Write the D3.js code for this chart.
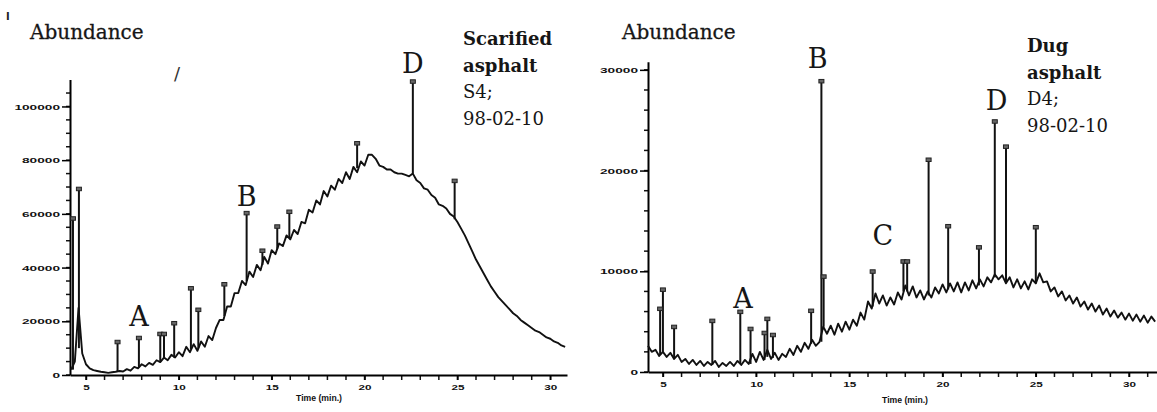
<!DOCTYPE html>
<html>
<head>
<meta charset="utf-8">
<script src="https://cdn.jsdelivr.net/npm/d3@7"></script>
<style>
  body { margin: 0; background: #fff; }
  .lab { font-family: "DejaVu Serif", serif; fill: #161616; }
  .tick text { font-family: "Liberation Sans", Arial, sans-serif; font-weight: bold; fill: #111; }
</style>
</head>
<body>
<svg id="chart" width="1157" height="412"></svg>
<script>
// chromatogram traces, sampled every 0.2 min, abundance in thousands
var sampleStep = 0.2;

var leftStart = 4.2;
var leftBase = [
  2, 5, 25, 8, 4, 2.5, 1.8, 1.5, 1.2, 1.0,
  0.8, 1.0, 1.2, 1.5, 1.3, 2.2, 1.6, 3.0, 2.5, 4.0,
  3.2, 4.5, 3.8, 5.5, 4.8, 6.5, 5.5, 7.5, 6.5, 8.5,
  7.0, 10.5, 8.5, 11.5, 9.0, 12.5, 10.5, 14.5, 13.0, 17.5,
  20.5, 20.5, 25.5, 25.5, 30.5, 30.5, 35, 33.5, 38.5, 36.5,
  41, 39, 44, 41.5, 46.5, 45, 49, 48, 52, 50.5,
  54, 52.5, 57, 56.5, 61.5, 60.5, 65, 63.5, 68.5, 66.5,
  70.5, 69, 73, 71.5, 75.5, 73, 77.5, 75.5, 79.5, 78,
  82, 82, 80.5, 78, 77.5, 76.5, 76.5, 75.5, 75, 75,
  74.5, 74, 75, 72.5, 71.5, 69.5, 69, 67, 66, 63.5,
  63, 62, 60, 59, 57, 54.5, 52, 49, 46, 43,
  40.5, 38, 35.5, 33, 31, 29, 27.5, 26, 24.5, 23,
  22, 20.5, 19.5, 18.5, 17.5, 16.5, 16, 15, 14, 13.5,
  12.5, 12, 11, 10.5
];
// [time, foot, top] in thousands
var leftPeaks = [
  [4.3, 2, 58], [4.62, 10, 69], [6.7, 1.2, 12], [7.85, 2.8, 13.5],
  [9.0, 4.8, 15], [9.2, 6.5, 15], [9.75, 6.5, 19], [10.65, 9.5, 32],
  [11.05, 10, 24], [12.45, 22, 33.5], [13.65, 35, 60], [14.5, 41, 46],
  [15.3, 47, 55], [15.95, 51, 60.5], [19.6, 77, 86], [22.6, 75, 109],
  [24.85, 58, 72]
];

var rightStart = 4.2;
var rightBase = [
  2.6, 2.0, 2.2, 1.6, 2.0, 1.5, 1.9, 1.3, 1.7, 1.0,
  1.3, 0.8, 1.2, 0.7, 1.1, 0.6, 1.0, 0.7, 1.1, 0.5,
  0.9, 0.6, 1.0, 0.6, 1.1, 0.7, 1.2, 0.8, 1.8, 1.0,
  2.0, 1.2, 2.2, 1.3, 1.9, 1.2, 1.8, 1.5, 2.3, 1.7,
  2.6, 2.0, 2.9, 2.3, 3.2, 2.6, 3.0, 4.5, 3.8, 4.6,
  3.7, 4.8, 4.0, 5.0, 4.2, 5.2, 4.6, 5.9, 5.2, 7.0,
  6.3, 7.8, 6.8, 7.6, 6.6, 7.4, 6.7, 7.9, 7.2, 8.6,
  7.6, 8.5, 7.4, 8.1, 7.2, 8.0, 7.4, 8.4, 7.8, 8.7,
  7.9, 8.8, 8.0, 8.9, 7.9, 8.9, 8.1, 9.1, 8.3, 9.2,
  8.5, 9.4, 8.9, 9.7, 9.2, 9.6, 8.8, 9.4, 8.4, 9.2,
  8.3, 9.0, 8.2, 9.2, 8.8, 9.8, 8.9, 9.0, 8.0, 8.4,
  7.5, 8.0, 7.1, 7.6, 6.8, 7.4, 6.5, 7.0, 6.2, 6.8,
  6.0, 6.6, 5.7, 6.3, 5.5, 6.1, 5.4, 5.9, 5.2, 5.8,
  5.1, 5.7, 5.0, 5.6, 4.9, 5.5, 5.0
];
var rightPeaks = [
  [4.85, 1.7, 6.2], [5.0, 2.0, 8.1], [5.6, 1.3, 4.4], [7.65, 0.7, 5.0],
  [9.15, 0.8, 5.9], [9.7, 0.8, 4.2], [10.45, 1.2, 3.8], [10.6, 1.5, 5.2],
  [10.9, 1.4, 3.6], [12.95, 2.8, 6.0], [13.5, 3.0, 28.8], [13.62, 4.5, 9.4],
  [16.25, 6.5, 9.9], [17.9, 8.0, 10.9], [18.1, 8.0, 10.9], [19.25, 7.6, 21.0],
  [20.3, 8.2, 14.4], [21.95, 8.6, 12.3], [22.8, 9.4, 24.8], [23.4, 9.0, 22.3],
  [25.0, 8.8, 14.3]
];

var leftYTicks = [0, 20000, 40000, 60000, 80000, 100000];
var rightYTicks = [0, 10000, 20000, 30000];
var timeTicks = [5, 10, 15, 20, 25, 30];

var svg = d3.select("#chart");

function drawPanel(p) {
  var x = d3.scaleLinear().domain(p.xDomain).range(p.xRange);
  var y = d3.scaleLinear().domain(p.yDomain).range(p.yRange);
  var g = svg.append("g");

  // minor ticks
  g.selectAll(".ymin").data(d3.range(0, p.yDomain[1], p.yMinor)).enter().append("line")
    .attr("class", "ymin")
    .attr("x1", p.xRange[0] - 4).attr("x2", p.xRange[0])
    .attr("y1", function (d) { return y(d); }).attr("y2", function (d) { return y(d); })
    .attr("stroke", "#111").attr("stroke-width", 1.5);
  g.selectAll(".xmin").data(d3.range(5, p.xDomain[1], 1)).enter().append("line")
    .attr("class", "xmin")
    .attr("x1", function (d) { return x(d); }).attr("x2", function (d) { return x(d); })
    .attr("y1", p.yRange[0]).attr("y2", p.yRange[0] + 5)
    .attr("stroke", "#111").attr("stroke-width", 1.5);

  // main axes
  var ya = g.append("g")
    .attr("transform", "translate(" + p.xRange[0] + ",0)")
    .call(d3.axisLeft(y).tickValues(p.yTicks).tickSize(8).tickSizeOuter(0).tickPadding(2).tickFormat(d3.format("d")));
  ya.select(".domain").attr("stroke-width", 2);
  ya.selectAll(".tick line").attr("stroke-width", 1.5);
  ya.selectAll(".tick text")
    .attr("font-size", 8)
    .attr("textLength", function (d) { return String(d).length * 7.6; })
    .attr("lengthAdjust", "spacingAndGlyphs");

  var xa = g.append("g")
    .attr("transform", "translate(0," + p.yRange[0] + ")")
    .call(d3.axisBottom(x).tickValues(timeTicks).tickSize(5).tickSizeOuter(0).tickPadding(4).tickFormat(d3.format("d")));
  xa.select(".domain").attr("stroke-width", 2);
  xa.selectAll(".tick line").attr("stroke-width", 1.5);
  xa.selectAll(".tick text")
    .attr("font-size", 8)
    .attr("textLength", function (d) { return String(d).length * 6.5; })
    .attr("lengthAdjust", "spacingAndGlyphs");

  g.append("text")
    .attr("x", p.timeLabel[0]).attr("y", p.timeLabel[1])
    .attr("text-anchor", "middle")
    .attr("font-family", "Liberation Sans, Arial, sans-serif")
    .attr("font-weight", "bold").attr("font-size", 9).attr("fill", "#111")
    .attr("textLength", 46).attr("lengthAdjust", "spacingAndGlyphs")
    .text("Time (min.)");

  // trace
  var pts = p.base.map(function (v, i) { return { t: p.start + i * sampleStep, v: v * 1000 }; });
  var line = d3.line().x(function (d) { return x(d.t); }).y(function (d) { return y(d.v); });
  g.append("path").datum(pts)
    .attr("d", line)
    .attr("fill", "none").attr("stroke", "#111")
    .attr("stroke-width", 1.9).attr("stroke-linejoin", "round");

  // peaks
  g.selectAll(".peak").data(p.peaks).enter().append("line")
    .attr("class", "peak")
    .attr("x1", function (d) { return x(d[0]); }).attr("x2", function (d) { return x(d[0]); })
    .attr("y1", function (d) { return y(d[1] * 1000); }).attr("y2", function (d) { return y(d[2] * 1000); })
    .attr("stroke", "#111").attr("stroke-width", 2);
  g.selectAll(".mark").data(p.peaks).enter().append("rect")
    .attr("class", "mark")
    .attr("x", function (d) { return x(d[0]) - 2.5; })
    .attr("y", function (d) { return y(d[2] * 1000) - 2.5; })
    .attr("width", 5).attr("height", 3.5)
    .attr("fill", "#666").attr("stroke", "#222").attr("stroke-width", 1);

  // axis title
  g.append("text").attr("class", "lab")
    .attr("x", p.abund[0]).attr("y", p.abund[1])
    .attr("font-size", 20).attr("stroke", "#161616").attr("stroke-width", 0.3)
    .text("Abundance");

  // peak letters
  g.selectAll(".letter").data(p.letters).enter().append("text")
    .attr("class", "lab")
    .attr("x", function (d) { return x(d[1]); })
    .attr("y", d => d[2])
    .attr("text-anchor", "middle").attr("font-size", 27)
    .text(function (d) { return d[0]; });

  // sample caption
  var cap = g.append("text").attr("class", "lab").attr("font-size", 18);
  p.caption.forEach(function (c, i) {
    cap.append("tspan")
      .attr("x", p.capPos[0]).attr("y", p.capPos[1] + i * 26.5)
      .attr("font-weight", c[1] ? "bold" : "normal")
      .text(c[0]);
  });
}

drawPanel({
  xDomain: [4.14, 30.9], xRange: [70, 567],
  yDomain: [0, 110000], yRange: [375, 79.6], yMinor: 5000,
  yTicks: leftYTicks,
  start: leftStart, base: leftBase, peaks: leftPeaks,
  timeLabel: [319, 401],
  abund: [30, 39],
  letters: [["A", 7.85, 326], ["B", 13.65, 206], ["D", 22.6, 73]],
  caption: [["Scarified", true], ["asphalt", true], ["S4;", false], ["98-02-10", false]],
  capPos: [463, 45]
});

drawPanel({
  xDomain: [4.2, 31.5], xRange: [648, 1157],
  yDomain: [0, 30800], yRange: [372, 61.8], yMinor: 2000,
  yTicks: rightYTicks,
  start: rightStart, base: rightBase, peaks: rightPeaks,
  timeLabel: [905, 403],
  abund: [622, 39],
  letters: [["A", 9.3, 308], ["B", 13.3, 68], ["C", 16.8, 245], ["D", 22.9, 110]],
  caption: [["Dug", true], ["asphalt", true], ["D4;", false], ["98-02-10", false]],
  capPos: [1027, 52]
});

// scan marks
svg.append("text").attr("x", 6).attr("y", 20)
  .attr("font-family", "DejaVu Sans, sans-serif").attr("font-weight", "bold")
  .attr("font-size", 10).attr("fill", "#222").text("I");
svg.append("text").attr("x", 174).attr("y", 80)
  .attr("font-family", "DejaVu Sans, sans-serif")
  .attr("font-size", 18).attr("fill", "#333").text("/");
</script>
</body>
</html>
